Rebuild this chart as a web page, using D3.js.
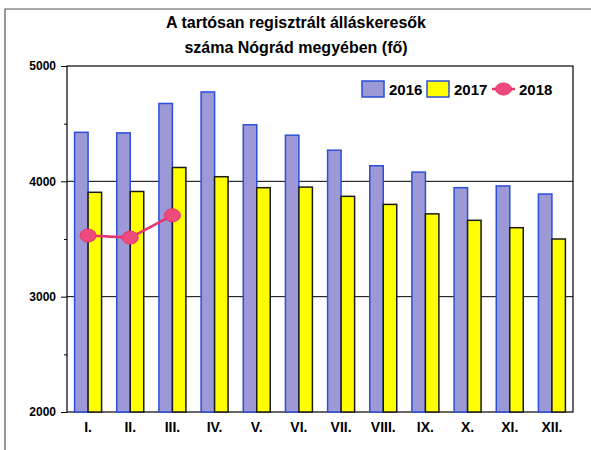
<!DOCTYPE html>
<html>
<head>
<meta charset="utf-8">
<script src="https://cdn.jsdelivr.net/npm/d3@7"></script>
<style>
  body { margin: 0; background: #fff; }
  svg { font-family: "Liberation Sans", Arial, sans-serif; }
</style>
</head>
<body>
<div id="chart"></div>
<script>
const months = ['I.', 'II.', 'III.', 'IV.', 'V.', 'VI.', 'VII.', 'VIII.', 'IX.', 'X.', 'XI.', 'XII.'];
const values2016 = [4425, 4420, 4675, 4775, 4490, 4400, 4270, 4135, 4080, 3945, 3960, 3890];
const values2017 = [3905, 3912, 4120, 4040, 3945, 3950, 3870, 3800, 3718, 3662, 3598, 3500];
const values2018 = [3530, 3512, 3705];
const yTicks = [2000, 3000, 4000, 5000];
const yMinorTicks = [2500, 3500, 4500];

const width = 591;
const height = 450;
const margin = {top: 66, right: 18, bottom: 38, left: 67};

const svg = d3.select('#chart').append('svg')
  .attr('width', width)
  .attr('height', height);

// outer frame (top and left edges only visible)
svg.append('path')
  .attr('d', 'M5,450 L5,9 L591,9')
  .attr('fill', 'none')
  .attr('stroke', '#555')
  .attr('stroke-width', 1.2);

svg.append('text')
  .attr('x', 296).attr('y', 28)
  .attr('text-anchor', 'middle')
  .style('font-size', '16px').style('font-weight', 'bold')
  .text('A tartósan regisztrált álláskeresők');
svg.append('text')
  .attr('x', 296).attr('y', 53)
  .attr('text-anchor', 'middle')
  .style('font-size', '16px').style('font-weight', 'bold')
  .text('száma Nógrád megyében (fő)');

const x = d3.scaleBand()
  .domain(months)
  .range([margin.left, width - margin.right])
  .paddingInner(0.36)
  .paddingOuter(0.18);

const xSub = d3.scaleBand()
  .domain(['2016', '2017'])
  .range([0, x.bandwidth()]);

const y = d3.scaleLinear()
  .domain([2000, 5000])
  .range([height - margin.bottom, margin.top]);

// grid lines
svg.append('g')
  .selectAll('line')
  .data(yTicks.slice(1, 3))
  .join('line')
  .attr('x1', margin.left).attr('x2', width - margin.right)
  .attr('y1', d => y(d)).attr('y2', d => y(d))
  .attr('stroke', '#000').attr('stroke-width', 1);

// plot border
svg.append('rect')
  .attr('x', margin.left).attr('y', margin.top)
  .attr('width', width - margin.right - margin.left)
  .attr('height', height - margin.bottom - margin.top)
  .attr('fill', 'none').attr('stroke', '#000').attr('stroke-width', 1.2);

const groups = svg.append('g')
  .selectAll('g')
  .data(months)
  .join('g')
  .attr('transform', d => `translate(${x(d)},0)`);

groups.append('rect')
  .attr('x', xSub('2016'))
  .attr('width', xSub.bandwidth())
  .attr('y', (d, i) => y(values2016[i]))
  .attr('height', (d, i) => y(2000) - y(values2016[i]))
  .attr('fill', '#9d98d6').attr('stroke', '#2a4fd8').attr('stroke-width', 1.5);

groups.append('rect')
  .attr('x', xSub('2017'))
  .attr('width', xSub.bandwidth())
  .attr('y', (d, i) => y(values2017[i]))
  .attr('height', (d, i) => y(2000) - y(values2017[i]))
  .attr('fill', '#ffff00').attr('stroke', '#1a1a1a').attr('stroke-width', 1.5);

// y axis
const yAxis = svg.append('g')
  .attr('transform', `translate(${margin.left},0)`)
  .call(d3.axisLeft(y).tickValues(yTicks).tickFormat(d3.format('d')).tickSize(6).tickPadding(5));
yAxis.select('.domain').remove();
yAxis.selectAll('text').style('font-size', '12px').style('font-weight', 'bold').attr('fill', '#000');
yAxis.selectAll('line').attr('stroke', '#000');

svg.append('g')
  .attr('transform', `translate(${margin.left},0)`)
  .call(d3.axisLeft(y).tickValues(yMinorTicks).tickFormat('').tickSize(3))
  .call(g => g.select('.domain').remove());

// x axis labels
const xAxis = svg.append('g')
  .attr('transform', `translate(0,${height - margin.bottom})`)
  .call(d3.axisBottom(x).tickSize(0).tickPadding(10));
xAxis.select('.domain').remove();
xAxis.selectAll('text').style('font-size', '14px').style('font-weight', 'bold').attr('fill', '#000');

// 2018 line
const line = d3.line()
  .x((d, i) => x(months[i]) + x.bandwidth() / 2)
  .y(d => y(d));

svg.append('path')
  .datum(values2018)
  .attr('d', line)
  .attr('fill', 'none')
  .attr('stroke', '#e8336b')
  .attr('stroke-width', 2.5);

svg.append('g')
  .selectAll('ellipse')
  .data(values2018)
  .join('ellipse')
  .attr('cx', (d, i) => x(months[i]) + x.bandwidth() / 2)
  .attr('cy', d => y(d))
  .attr('rx', 8).attr('ry', 6.5)
  .attr('fill', '#ef4a7e').attr('stroke', '#e8336b');

// legend
const legend = svg.append('g').attr('transform', 'translate(362,81)');
legend.append('rect').attr('x', 0).attr('y', 0).attr('width', 22).attr('height', 16)
  .attr('fill', '#9d98d6').attr('stroke', '#2a4fd8').attr('stroke-width', 1.5);
legend.append('text').attr('x', 27).attr('y', 14).text('2016');
legend.append('rect').attr('x', 65).attr('y', 0).attr('width', 22).attr('height', 16)
  .attr('fill', '#ffff00').attr('stroke', '#2a4fd8').attr('stroke-width', 1.5);
legend.append('text').attr('x', 92).attr('y', 14).text('2017');
legend.append('line').attr('x1', 130).attr('x2', 153).attr('y1', 8).attr('y2', 8)
  .attr('stroke', '#e8336b').attr('stroke-width', 2.5);
legend.append('ellipse').attr('cx', 141.5).attr('cy', 8).attr('rx', 8).attr('ry', 6)
  .attr('fill', '#ef4a7e').attr('stroke', '#e8336b');
legend.append('text').attr('x', 157).attr('y', 14).text('2018');
legend.selectAll('text').style('font-size', '15px').style('font-weight', 'bold');
</script>
</body>
</html>
